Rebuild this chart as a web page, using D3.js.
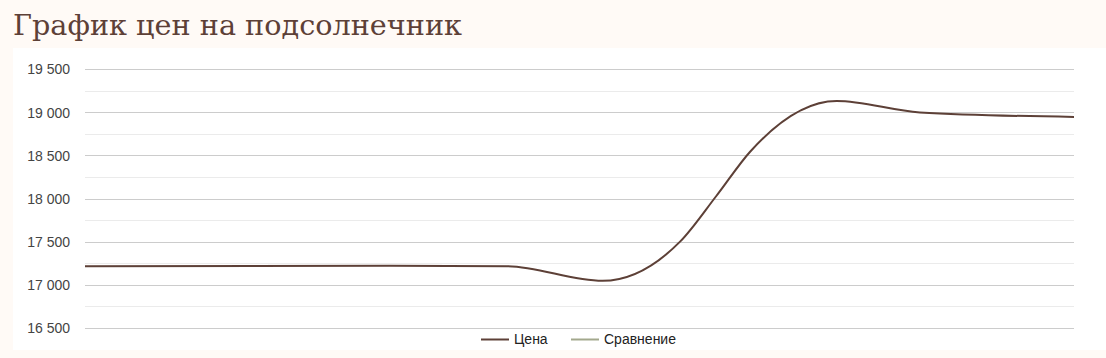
<!DOCTYPE html>
<html><head><meta charset="utf-8">
<script src="https://cdn.jsdelivr.net/npm/d3@7"></script>
<style>
html,body{margin:0;padding:0;background:#fffaf6;}
svg{display:block;}
</style></head>
<body>
<svg id="chart" width="1106" height="358"></svg>
<script>
// Data (x = day offset from the first observation, value = price)
const days = [0, 37, 51.2, 62.8, 72.2, 76.6, 80.7, 91.2, 101.3, 120];
const prices = [17214, 17220, 17215, 17046, 17500, 18029, 18542, 19129, 18997, 18945];
const yTicks = [16500, 17000, 17500, 18000, 18500, 19000, 19500];
const legendLabels = ["Цена", "Сравнение"];
const legendColors = ["#5d4037", "#a3a88d"];
const title = "График цен на подсолнечник";

const svg = d3.select("#chart");
const W = 1106, H = 358;

svg.append("rect").attr("x", 0).attr("y", 0).attr("width", W).attr("height", H).attr("fill", "#fffaf6");
svg.append("rect").attr("x", 13).attr("y", 48).attr("width", W - 13).attr("height", 302).attr("fill", "#ffffff");

svg.append("text").attr("x", 13).attr("y", 35)
  .attr("font-family", "'DejaVu Serif', serif").attr("font-size", 27)
  .attr("textLength", 449).attr("lengthAdjust", "spacingAndGlyphs")
  .attr("fill", "#5d4037").text(title);

const x = d3.scaleLinear().domain([d3.min(days), d3.max(days)]).range([85, 1074]);
const y = d3.scaleLinear().domain([16500, 19500]).range([328, 69]);

// minor gridlines
const minor = d3.range(16750, 19500, 500);
svg.append("g").selectAll("line").data(minor).join("line")
  .attr("x1", 85).attr("x2", 1074)
  .attr("y1", d => Math.round(y(d)) + 0.5).attr("y2", d => Math.round(y(d)) + 0.5)
  .attr("stroke", "#ebebeb").attr("stroke-width", 1);

// y axis with major gridlines
const yAxis = d3.axisLeft(y).tickValues(yTicks).tickSize(0).tickPadding(0)
  .tickFormat(d => d3.format(",")(d).replace(/,/g, " "));
const ga = svg.append("g").attr("transform", "translate(70,0)").call(yAxis);
ga.select(".domain").remove();
ga.selectAll("text").attr("font-family", "Arial, 'Liberation Sans', sans-serif")
  .attr("font-size", 14).attr("fill", "#444").attr("dy", "0.35em");

svg.append("g").selectAll("line").data(yTicks).join("line")
  .attr("x1", 85).attr("x2", 1074)
  .attr("y1", d => Math.round(y(d)) + 0.5).attr("y2", d => Math.round(y(d)) + 0.5)
  .attr("stroke", "#cccccc").attr("stroke-width", 1);

// line
const pts = days.map((d, i) => [d, prices[i]]);
const line = d3.line().x(d => x(d[0])).y(d => y(d[1])).curve(d3.curveMonotoneX);
svg.append("path").datum(pts).attr("d", line)
  .attr("fill", "none").attr("stroke", legendColors[0]).attr("stroke-width", 2);

// legend
const legendX = [481, 571];
const lg = svg.append("g");
legendLabels.forEach((lab, i) => {
  lg.append("line").attr("x1", legendX[i]).attr("x2", legendX[i] + 28)
    .attr("y1", 339.5).attr("y2", 339.5)
    .attr("stroke", legendColors[i]).attr("stroke-width", 2);
  lg.append("text").attr("x", legendX[i] + 33).attr("y", 344)
    .attr("font-family", "Arial, 'Liberation Sans', sans-serif").attr("font-size", 14)
    .attr("fill", "#222").text(lab);
});
</script>
</body></html>
